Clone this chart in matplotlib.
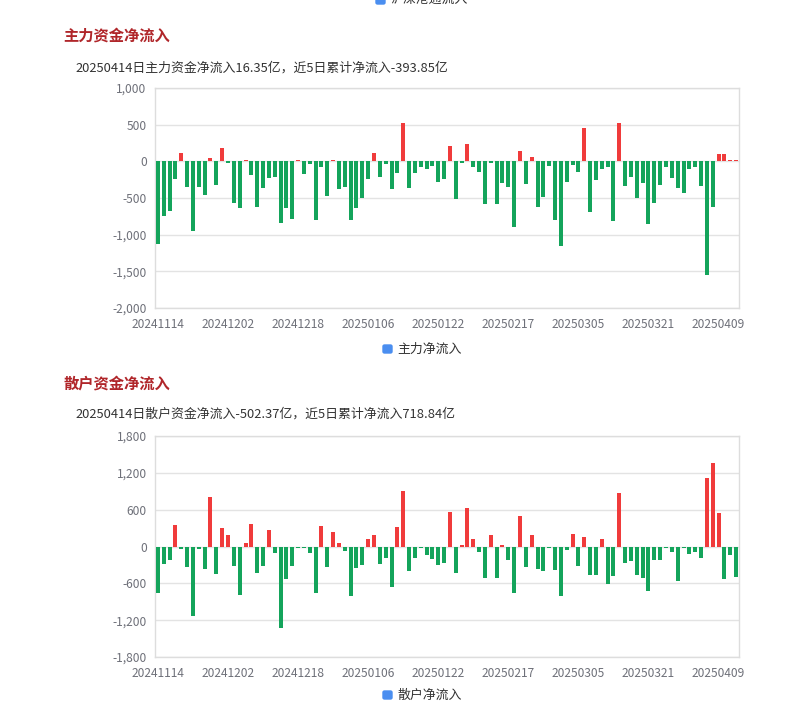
import matplotlib.pyplot as plt
from matplotlib.ticker import FuncFormatter
from matplotlib.patches import FancyBboxPatch

plt.rcParams['font.family'] = ['Noto Sans CJK SC', 'DejaVu Sans']

# trading days, 20241114 - 20250414
dates = [
    "20241114", "20241115", "20241118", "20241119", "20241120", "20241121", "20241122",
    "20241125", "20241126", "20241127", "20241128", "20241129",
    "20241202", "20241203", "20241204", "20241205", "20241206", "20241209", "20241210",
    "20241211", "20241212", "20241213", "20241216", "20241217", "20241218", "20241219",
    "20241220", "20241223", "20241224", "20241225", "20241226", "20241227", "20241230",
    "20241231",
    "20250102", "20250103", "20250106", "20250107", "20250108", "20250109", "20250110",
    "20250113", "20250114", "20250115", "20250116", "20250117", "20250120", "20250121",
    "20250122", "20250123", "20250124", "20250127",
    "20250205", "20250206", "20250207", "20250210", "20250211", "20250212", "20250213",
    "20250214", "20250217", "20250218", "20250219", "20250220", "20250221", "20250224",
    "20250225", "20250226", "20250227", "20250228",
    "20250303", "20250304", "20250305", "20250306", "20250307", "20250310", "20250311",
    "20250312", "20250313", "20250314", "20250317", "20250318", "20250319", "20250320",
    "20250321", "20250324", "20250325", "20250326", "20250327", "20250328", "20250331",
    "20250401", "20250402", "20250403", "20250407", "20250408", "20250409", "20250410",
    "20250411", "20250414",
]

# 主力净流入 (亿)
main_flow = [
    -1134, -751, -684, -247, 108, -351, -954, -351, -463, 40,
    -328, 184, -27, -567, -639, 15, -180, -616, -364, -234,
    -220, -837, -639, -787, 15, -178, -40, -805, -72, -470,
    15, -372, -355, -795, -635, -505, -240, 118, -220, -30,
    -383, -158, 520, -362, -158, -82, -98, -68, -282, -238,
    212, -510, -22, 235, -72, -140, -585, -22, -578, -298,
    -356, -893, 136, -306, 63, -618, -484, -58, -794, -1158,
    -288, -45, -140, 452, -696, -256, -110, -84, -810, 527,
    -330, -214, -502, -298, -853, -574, -317, -81, -226, -370,
    -434, -105, -81, -340, -1555, -625.2, 105, 98, 12, 16.35,
]

# 散户净流入 (亿)
retail_flow = [
    -752, -292, -227, 346, -38, -330, -1125, -38, -368, 811,
    -449, 297, 189, -319, -795, 54, 362, -438, -314, 270,
    -103, -1331, -530, -319, -22, -22, -103, -752, 341, -330,
    243, 65, -76, -800, -357, -303, 130, 189, -287, -189,
    -660, 314, 898, -400, -189, -22, -141, -200, -308, -275,
    557, -438, 22, 633, 130, -92, -509, 189, -514, 32,
    -227, -757, 492, -335, 184, -362, -395, -22, -384, -806,
    -65, 200, -319, 162, -470, -462, 116, -606, -481, 865,
    -276, -238, -471, -519, -720, -216, -216, -20, -92, -557,
    -25, -130, -92, -189, 1120, 1355, 545, -533, -145.8, -502.37,
]

main_ticks = [1000, 500, 0, -500, -1000, -1500, -2000]
retail_ticks = [1800, 1200, 600, 0, -600, -1200, -1800]

RED = '#f03b3b'
GREEN = '#14a45b'
TITLE_RED = '#b0262a'
GRID = '#e3e3e3'
TICK = '#6e7079'

W, H = 791, 717
fig = plt.figure(figsize=(W / 100, H / 100), dpi=100)


def fx(px):
    return px / W


def fy(py):
    return 1 - py / H


def panel(top, bottom, values, ticks, title, subtitle, legend, title_y, sub_y, leg_y):
    ax = fig.add_axes([fx(155), fy(bottom), fx(739) - fx(155), fy(top) - fy(bottom)])
    x = list(range(len(values)))
    colors = [RED if v > 0 else GREEN for v in values]
    ax.bar(x, values, width=0.68, color=colors, zorder=3)
    ax.set_xlim(-0.5, len(values) - 0.5)
    ax.set_ylim(min(ticks), max(ticks))
    ax.set_yticks(ticks)
    ax.yaxis.set_major_formatter(FuncFormatter(lambda v, p: f"{int(v):,}"))
    ax.set_xticks(x[::12])
    ax.set_xticklabels(dates[::12])
    ax.tick_params(axis='both', length=0, colors=TICK, labelsize=8.6, pad=6)
    ax.tick_params(axis='x', pad=7.5)
    ax.grid(axis='y', color=GRID, linewidth=1, zorder=0)
    for s in ax.spines.values():
        s.set_color('#dddddd')
        s.set_linewidth(1)

    fig.text(fx(63), fy(title_y), title, fontsize=11, fontweight='bold',
             color=TITLE_RED, va='center', ha='left')
    fig.text(fx(75), fy(sub_y), subtitle, fontsize=9.3, color='#333333',
             va='center', ha='left')
    # legend
    fig.patches.append(FancyBboxPatch((fx(383), fy(leg_y + 4)), fx(9), 8 / H,
                                      boxstyle='round,pad=0,rounding_size=0.002',
                                      transform=fig.transFigure,
                                      color='#4a8ef0', figure=fig))
    fig.text(fx(397), fy(leg_y), legend, fontsize=9.3, color='#333333',
             va='center', ha='left')
    return ax


# cut-off legend of the chart above
fig.patches.append(FancyBboxPatch((fx(376), fy(4)), fx(9), 8 / H,
                                  boxstyle='round,pad=0,rounding_size=0.002',
                                  transform=fig.transFigure,
                                  color='#4a8ef0', figure=fig))
fig.text(fx(390), fy(-1), "沪深港通流入", fontsize=9.3, color='#333333',
         va='center', ha='left')

panel(88, 308, main_flow, main_ticks, "主力资金净流入",
      "20250414日主力资金净流入16.35亿，近5日累计净流入-393.85亿", "主力净流入",
      36, 68, 349)
panel(436, 657, retail_flow, retail_ticks, "散户资金净流入",
      "20250414日散户资金净流入-502.37亿，近5日累计净流入718.84亿", "散户净流入",
      384, 414, 695)

fig.savefig("out.png", dpi=100)
